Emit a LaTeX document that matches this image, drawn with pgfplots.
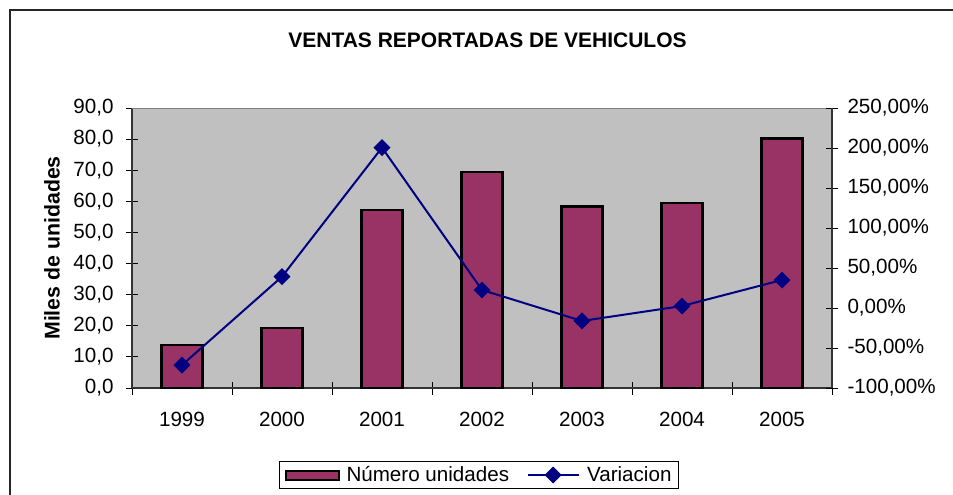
\documentclass[border=0pt]{standalone}
\usepackage{pgfplots}
\pgfplotsset{compat=1.18}
\usepackage{fontspec}
\setmainfont{Liberation Sans}
\definecolor{barc}{HTML}{993366}
\definecolor{navyc}{HTML}{000080}
\definecolor{plotbg}{HTML}{C0C0C0}
\newcommand{\fs}{\fontsize{20.6}{24}\selectfont}
\begin{document}
\begin{tikzpicture}[x=1pt,y=1pt]
\path[use as bounding box] (0,0) rectangle (953,-495);
\draw[line width=1.5pt, black!85] (10,-540) -- (10,-10) -- (1000,-10);
\node[font=\fontsize{21}{25}\selectfont\bfseries] at (487.5,-40) {VENTAS REPORTADAS DE VEHICULOS};
\node[font=\fontsize{21.3}{25}\selectfont\bfseries, rotate=90] at (52,-248) {Miles de unidades};
\begin{axis}[
  at={(132pt,-388pt)}, anchor=south west, scale only axis,
  width=700pt, height=280pt,
  ybar, bar width=0.41,
  xmin=-0.5, xmax=6.5, ymin=0, ymax=90,
  ytick={0,10,...,90},
  xtick={0,...,6}, xticklabels={1999,2000,2001,2002,2003,2004,2005},
  minor xtick={-0.5,0.5,...,6.5},
  major x tick style={draw=none},
  tick align=center, major tick length=12pt, minor tick length=13pt,
  tick style={black, line width=1pt},
  axis x line*=bottom, axis y line*=left,
  axis line style={black!80, line width=1.3pt},
  axis background/.style={fill=plotbg},
  tick label style={font=\fs},
  every y tick label/.append style={anchor=east, xshift=-9pt},
  xticklabel style={yshift=-15pt},
  /pgf/number format/.cd, fixed, fixed zerofill, precision=1, use comma, assume math mode=true,
]
\addplot[fill=barc, draw=black, line width=2.4pt] coordinates {(0,13.8) (1,19.2) (2,57.2) (3,69.5) (4,58.3) (5,59.4) (6,80.2)};
\draw[gray, line width=1.2pt] (rel axis cs:0,1) -- (rel axis cs:1,1);
\end{axis}
\begin{axis}[
  at={(132pt,-388pt)}, anchor=south west, scale only axis,
  width=700pt, height=280pt,
  xmin=-0.5, xmax=6.5, ymin=-100, ymax=250,
  ytick={-100,-50,...,250},
  axis x line=none, axis y line*=right,
  tick align=center, major tick length=12pt,
  tick style={black, line width=1pt},
  axis line style={black!80, line width=1.3pt},
  tick label style={font=\fs},
  yticklabel style={xshift=6pt},
  yticklabel={\pgfmathprintnumber{\tick}\%},
  legend style={at={(0.4957,-0.3107)}, anchor=center, draw=black, line width=1pt, fill=white, font=\fs,
    inner xsep=5pt, inner ysep=3pt,
    /tikz/every odd column/.append style={column sep=5pt},
    /tikz/every even column/.append style={column sep=16pt}},
  legend columns=2,
  /pgf/number format/.cd, fixed, fixed zerofill, precision=2, use comma, assume math mode=true,
]
\addlegendimage{legend image code/.code={\draw[fill=barc,draw=black,line width=2pt] (0pt,-4.5pt) rectangle (53pt,4.5pt);}}
\addlegendentry{Número unidades}
\addplot[navyc, line width=2pt, mark=square*, mark size=5pt, mark options={rotate=45, solid},
  legend image code/.code={\draw[mark repeat=2,mark phase=2] plot coordinates {(0pt,0pt) (25pt,0pt) (51pt,0pt)};}]
  coordinates {(0,-71.3) (1,39.2) (2,200.5) (3,22.5) (4,-16.2) (5,2.5) (6,35.0)};
\addlegendentry{Variacion}
\end{axis}
\end{tikzpicture}
\end{document}
